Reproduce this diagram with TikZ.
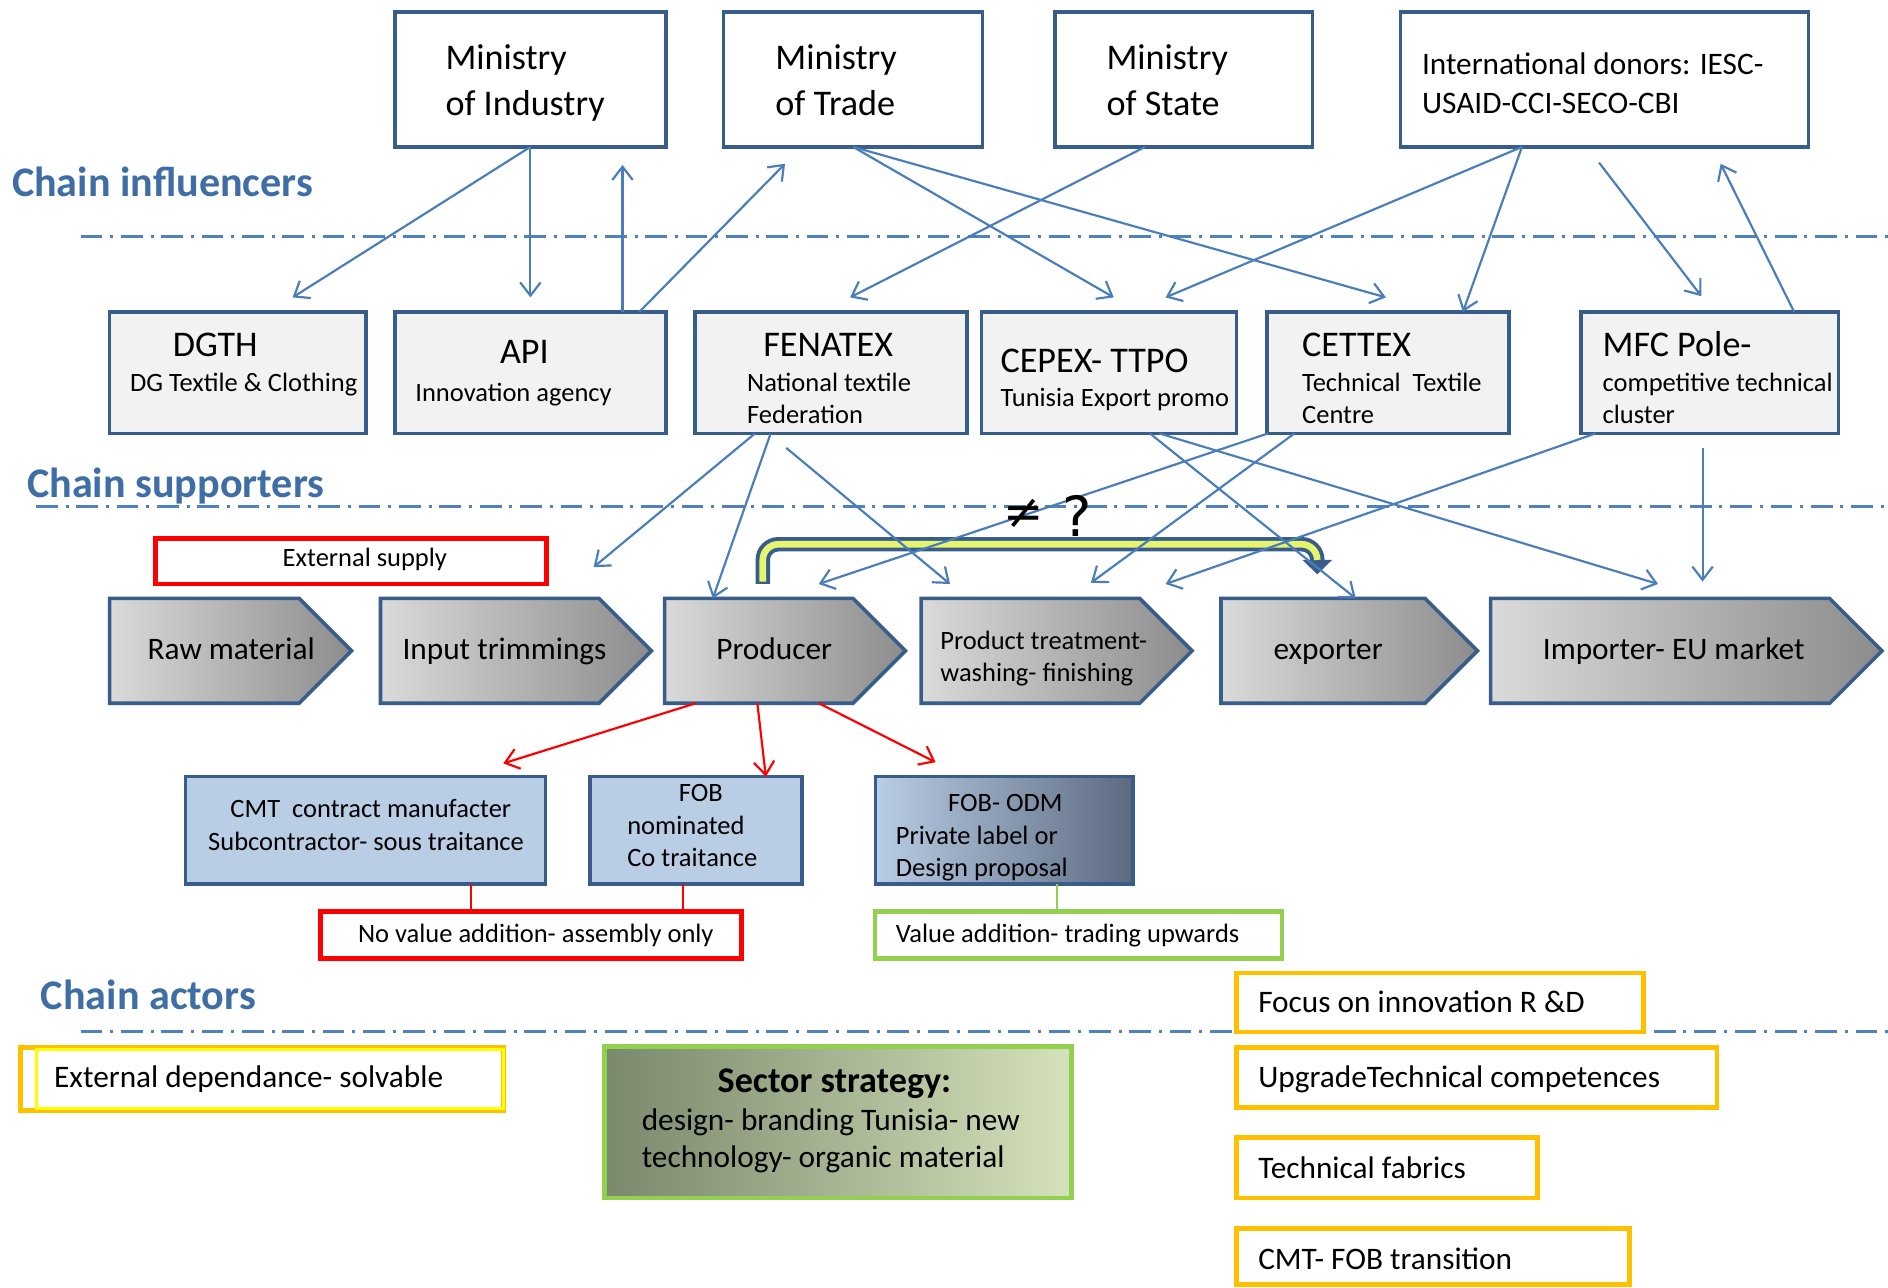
\documentclass[tikz,border=0pt]{standalone}
\usepackage{fontspec}
\setmainfont{Carlito}
\newfontfamily\symfnt{DejaVu Sans}
\usetikzlibrary{arrows.meta,calc,shapes.symbols}

\definecolor{bbord}{RGB}{56,93,138}
\definecolor{sfill}{RGB}{242,242,242}
\definecolor{arrblue}{RGB}{74,126,187}
\definecolor{lblblue}{RGB}{62,110,165}
\definecolor{dashblue}{RGB}{79,129,189}
\definecolor{pgreen}{RGB}{146,208,80}
\definecolor{porange}{RGB}{255,192,0}
\definecolor{pyellow}{RGB}{255,255,0}
\definecolor{pred}{RGB}{255,0,0}
\definecolor{cmtfill}{RGB}{185,205,229}
\definecolor{odmdark}{RGB}{92,106,128}
\definecolor{chevlight}{RGB}{218,218,218}
\definecolor{chevdark}{RGB}{140,140,140}
\definecolor{olivedark}{RGB}{122,136,108}
\definecolor{olivelight}{RGB}{213,226,187}
\definecolor{brackfill}{RGB}{230,245,110}

\newcommand\ffMin{\fontsize{30}{38}\selectfont}
\newcommand\ffDon{\fontsize{26}{32}\selectfont}
\newcommand\ffSub{\fontsize{22}{27}\selectfont}
\newcommand\ffChev{\fontsize{26}{30}\selectfont}
\newcommand\ffBig{\fontsize{26}{31}\selectfont}
\newcommand\ffLbl{\fontsize{35}{42}\selectfont\bfseries}

\begin{document}
\begin{tikzpicture}[x=1pt,y=-1pt,
  every node/.style={inner sep=0pt, outer sep=0pt},
  wh/.style 2 args={minimum width=#1, minimum height=#2},
  boxbase/.style={rectangle, anchor=north west, draw=bbord, line width=3pt},
  topbox/.style={boxbase, fill=white},
  supbox/.style={boxbase, fill=sfill},
  actbox/.style={boxbase, fill=cmtfill},
  odmbox/.style={boxbase, left color=cmtfill, right color=odmdark},
  redbox/.style={rectangle, anchor=north west, draw=pred, line width=4pt, fill=white},
  grbox/.style={rectangle, anchor=north west, draw=pgreen, line width=3.5pt, fill=white},
  orbox/.style={rectangle, anchor=north west, draw=porange, line width=4pt, fill=white},
  chev/.style={signal, signal to=east, signal from=nowhere, signal pointer angle=90,
     draw=bbord, line width=3pt, left color=chevlight, right color=chevdark, anchor=west},
  txt/.style={anchor=base west, align=left},
  txtc/.style={anchor=base, align=center},
  lbl/.style={anchor=base west, text=lblblue, font=\ffLbl},
  divline/.style={draw=dashblue, line width=2.5pt, dash pattern=on 18pt off 6.5pt on 2.5pt off 6.5pt},
  barr/.style={draw=arrblue, line width=1.8pt, -{Straight Barb[length=11pt,width=17pt]}},
  rarr/.style={draw=pred, line width=1.8pt, -{Straight Barb[length=11pt,width=17pt]}},
  redln/.style={draw=pred, line width=1.8pt},
  grln/.style={draw=pgreen, line width=1.8pt},
]
\useasboundingbox[fill=white] (0,0) rectangle (1568,1069);

% separators
\draw[divline] (67,196) -- (1568,196);
\draw[divline] (30,421) -- (1568,421);
\draw[divline] (67,857) -- (1568,857);

% influencers
\node[topbox, wh={225}{112}] (mi) at (328,10) {};
\node[topbox, wh={215}{112}] (mt) at (601,10) {};
\node[topbox, wh={214}{112}] (ms) at (876,10) {};
\node[topbox, wh={339}{112}] (don) at (1163,10) {};

% supporters
\node[supbox, wh={213}{101}] (dgth) at (91,259) {};
\node[supbox, wh={225}{101}] (api) at (328,259) {};
\node[supbox, wh={226}{101}] (fen) at (577,259) {};
\node[supbox, wh={212}{101}] (cep) at (815,259) {};
\node[supbox, wh={201}{101}] (cet) at (1052,259) {};
\node[supbox, wh={214}{101}] (mfc) at (1313,259) {};

% external supply
\node[redbox, wh={325}{38}] (extsup) at (129,447) {};

% chain
\node[chev, wh={201}{87}] (raw) at (91,540.5) {};
\node[chev, wh={225}{87}] (inp) at (316,540.5) {};
\node[chev, wh={200}{87}] (prod) at (552,540.5) {};
\node[chev, wh={225}{87}] (ptr) at (765,540.5) {};
\node[chev, wh={213}{87}] (expo) at (1014,540.5) {};
\node[chev, wh={325}{87}] (imp) at (1238,540.5) {};

% actor types
\node[actbox, wh={299}{89}] (cmt) at (154,645) {};
\node[actbox, wh={176}{89}] (fob) at (490,645) {};
\node[odmbox, wh={214}{89}] (odm) at (727,645) {};
\node[redbox, wh={350}{39}] (nova) at (266,757) {};
\node[grbox, wh={338}{39}] (vadd) at (727,757) {};

% bottom boxes
\node[orbox, wh={401}{52}] (extdep) at (17,870) {};
\node[rectangle, anchor=north west, draw=pyellow, line width=2.5pt, wh={388}{49}] (extdepin) at (30,871.5) {};
\node[rectangle, anchor=north west, draw=pgreen, line width=4pt, left color=olivedark,
      right color=olivelight, wh={388}{126}] (sect) at (502,869) {};
\node[orbox, wh={338}{49}] (focus) at (1027,808) {};
\node[orbox, wh={399}{50}] (upg) at (1027,870) {};
\node[orbox, wh={250}{50}] (tfab) at (1027,945) {};
\node[orbox, wh={326}{47}] (cmtfob) at (1027,1020) {};

% bracket producer -> exporter
\coordinate (brs) at (633.5,485);
\coordinate (brm) at (1094,452);
\coordinate (bre) at (1094,477);
\draw[draw=bbord, line width=12pt, rounded corners=13pt, -{Triangle[length=12pt,width=24pt]}] (brs) |- (brm) -- (bre);
\draw[draw=brackfill, line width=5.5pt, rounded corners=13pt] (633.5,483) |- (brm) -- (1094,465);

% blue arrows, influencers <-> supporters
\coordinate (a1) at (243,247);
\draw[barr] (mi.south) -- (a1);
\coordinate (a2) at (440.5,247);
\draw[barr] (mi.south) -- (a2);
\coordinate (a3) at (517,137);
\draw[barr] ($(api.north west)+(189,0)$) -- (a3);
\coordinate (a4) at (652,136);
\draw[barr] ($(api.north west)+(203,0)$) -- (a4);
\coordinate (a5) at (925,247);
\draw[barr] (mt.south) -- (a5);
\coordinate (a6) at (1151,247);
\draw[barr] (mt.south) -- (a6);
\coordinate (a7) at (706,247);
\draw[barr] ($(ms.south west)+(75,0)$) -- (a7);
\coordinate (a8) at (968,247);
\draw[barr] ($(don.south west)+(101,0)$) -- (a8);
\draw[barr] ($(don.south west)+(101,0)$) -- ($(cet.north west)+(163,0)$);
\coordinate (a10s) at (1328,135);
\coordinate (a10e) at (1413,246);
\draw[barr] (a10s) -- (a10e);
\coordinate (a11) at (1429,136);
\draw[barr] ($(mfc.north west)+(177,0)$) -- (a11);

% blue arrows, supporters -> chain
\coordinate (a12) at (493,471);
\draw[barr] ($(fen.south west)+(50,0)$) -- (a12);
\draw[barr] ($(fen.south west)+(63,0)$) -- ($(prod.west)+(40,-43.5)$);
\coordinate (a14s) at (653,372);
\coordinate (a14e) at (789,485);
\draw[barr] (a14s) -- (a14e);
\draw[barr] ($(cep.south west)+(140,0)$) -- ($(expo.west)+(112,-43.5)$);
\coordinate (a16) at (1377,485);
\draw[barr] ($(cep.south west)+(148,0)$) -- (a16);
\coordinate (a17) at (680,485);
\draw[barr] ($(cet.south west)+(1,0)$) -- (a17);
\coordinate (a18) at (906,484);
\draw[barr] ($(cet.south west)+(23,0)$) -- (a18);
\coordinate (a19) at (968,485);
\draw[barr] ($(mfc.south west)+(12,0)$) -- (a19);
\coordinate (a20s) at (1414,372);
\coordinate (a20e) at (1414,483);
\draw[barr] (a20s) -- (a20e);

% red arrows from producer
\coordinate (r1) at (418,634);
\draw[rarr] ($(prod.west)+(26,43.5)$) -- (r1);
\draw[rarr] ($(prod.west)+(77,43.5)$) -- ($(fob.north west)+(146,0)$);
\coordinate (r3) at (777,633);
\draw[rarr] ($(prod.west)+(128,43.5)$) -- (r3);

% links to value notes
\coordinate (c1) at ($(cmt.south west)+(237,0)$);
\draw[redln] (c1) -- (c1 |- nova.north);
\coordinate (c2) at ($(fob.south west)+(77,0)$);
\draw[redln] (c2) -- (c2 |- nova.north);
\coordinate (g1) at ($(odm.south west)+(151,0)$);
\draw[grln] (g1) -- (g1 |- vadd.north);

% texts (base of a multi-line node = baseline of its last line)
\node[txt, font=\ffMin] (mi-t) at (370,96) {Ministry\\of Industry};
\node[txt, font=\ffMin] (mt-t) at (644,96) {Ministry\\of Trade};
\node[txt, font=\ffMin] (ms-t) at (919,96) {Ministry\\of State};
\node[txt, font=\ffDon] (don-t) at (1181,94) {International donors: IESC-\\USAID-CCI-SECO-CBI};

\node[txt, font=\ffMin] (dgth-t) at (143.5,296) {DGTH};
\node[txt, font=\ffSub] (dgth-s) at (108,325) {DG Textile \& Clothing};
\node[txtc, font=\ffMin] (api-t) at (435.5,302) {API};
\node[txt, font=\ffSub] (api-s) at (345,333.5) {Innovation agency};
\node[txt, font=\ffMin] (fen-t) at (634,296) {FENATEX};
\node[txt, font=\ffSub] (fen-s) at (620.5,352) {National textile\\Federation};
\node[txt, font=\ffMin] (cep-t) at (831,309) {CEPEX- TTPO};
\node[txt, font=\ffSub] (cep-s) at (831,338) {Tunisia Export promo};
\node[txt, font=\ffMin] (cet-t) at (1081.5,296) {CETTEX};
\node[txt, font=\ffSub] (cet-s) at (1081.5,352) {Technical\ \ Textile\\Centre};
\node[txt, font=\ffMin] (mfc-t) at (1331,296) {MFC Pole-};
\node[txt, font=\ffSub] (mfc-s) at (1331,352) {competitive technical\\cluster};

\node[lbl] (l1) at (10,163.5) {Chain influencers};
\node[lbl] (l2) at (22.5,413) {Chain supporters};
\node[lbl] (l3) at (34,838) {Chain actors};

\node[txtc, font=\ffSub] (extsup-t) at (303,470.5) {External supply};

\node[txtc, font=\ffChev] (raw-t) at (192,548) {Raw material};
\node[txtc, font=\ffChev] (inp-t) at (419,548) {Input trimmings};
\node[txtc, font=\ffChev] (prod-t) at (643,548) {Producer};
\node[txt, font=\ffSub] (ptr-t) at (781,566) {Product treatment-\\washing- finishing};
\node[txtc, font=\ffChev] (expo-t) at (1103,548) {exporter};
\node[txtc, font=\ffChev] (imp-t) at (1390,548) {Importer- EU market};

\node[font=\symfnt\fontsize{40}{40}\selectfont] (neq) at (850,427) {≠};
\node[font=\symfnt\fontsize{46}{46}\selectfont] (qm) at (895,428.5) {?};

\node[txtc, font=\ffSub] (cmt-t) at (308,679) {CMT\ \ contract manufacter};
\node[txtc, font=\ffSub] (cmt-s) at (304,706) {Subcontractor- sous traitance};
\node[txtc, font=\ffSub] (fob-t) at (582,666) {FOB};
\node[txt, font=\ffSub] (fob-s) at (521,720) {nominated\\Co traitance};
\node[txtc, font=\ffSub] (odm-t) at (835,674) {FOB- ODM};
\node[txt, font=\ffSub] (odm-s) at (744,728) {Private label or\\Design proposal};
\node[txtc, font=\ffSub] (nova-t) at (445,783) {No value addition- assembly only};
\node[txt, font=\ffSub] (vadd-t) at (744,783) {Value addition- trading upwards};

\node[txt, font=\ffBig] (extdep-t) at (45,903) {External dependance- solvable};
\node[txtc, font=\fontsize{30}{36}\selectfont\bfseries] (sect-t) at (693,907) {Sector strategy:};
\node[txt, font=\ffBig] (sect-s) at (533,970) {design- branding Tunisia- new\\technology- organic material};
\node[txt, font=\ffBig] (focus-t) at (1045,840.5) {Focus on innovation R \&D};
\node[txt, font=\ffBig] (upg-t) at (1045,903) {UpgradeTechnical competences};
\node[txt, font=\ffBig] (tfab-t) at (1045,978.5) {Technical fabrics};
\node[txt, font=\ffBig] (cmtfob-t) at (1045,1054) {CMT- FOB transition};
\end{tikzpicture}
\end{document}
